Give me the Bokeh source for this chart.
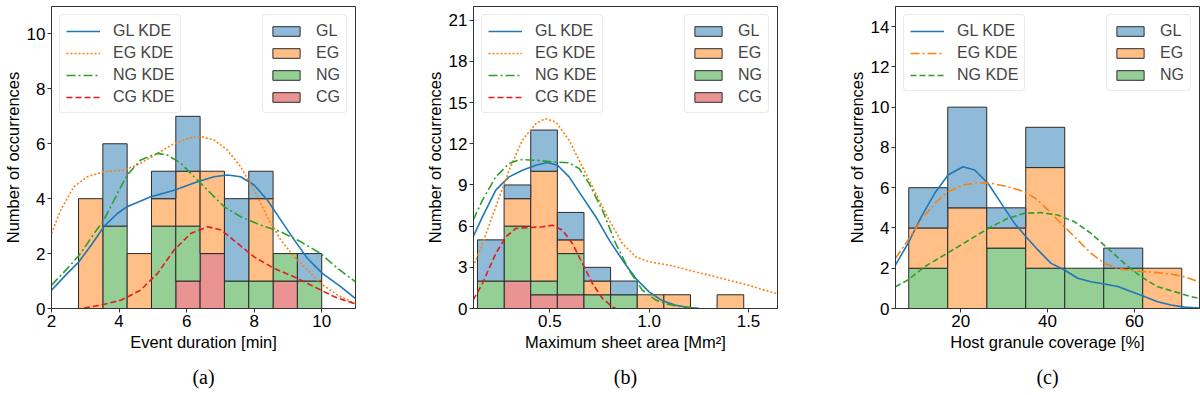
from bokeh.plotting import figure
from bokeh.models import (Legend, LegendItem, FixedTicker, Title, Range1d,
                          PrintfTickFormatter)
from bokeh.layouts import row
from bokeh.embed import file_html
from bokeh.resources import INLINE

# ---------------- data ----------------
groups = ["GL", "EG", "NG", "CG"]

# (a) Event duration [min]
a_edges = [2.80, 3.52, 4.24, 4.96, 5.68, 6.40, 7.12, 7.84, 8.56, 9.28, 10.00]
a_GL = [0, 3, 0, 1, 2, 0, 3, 1, 0, 1]
a_EG = [4, 0, 2, 1, 2, 3, 0, 3, 0, 0]
a_NG = [0, 3, 0, 3, 2, 0, 1, 1, 1, 1]
a_CG = [0, 0, 0, 0, 1, 2, 0, 0, 1, 0]
a_gl_kde_x = [2.0, 2.47, 2.81, 3.2, 3.55, 3.95, 4.24, 4.94, 5.63, 6.32, 6.81, 7.21, 7.60, 8.0, 8.39, 8.79, 9.19, 9.58, 10.02, 10.57, 11.0]
a_gl_kde_y = [0.67, 1.28, 1.70, 2.35, 2.98, 3.46, 3.71, 4.07, 4.31, 4.62, 4.80, 4.86, 4.80, 4.50, 3.95, 3.22, 2.49, 1.82, 1.28, 0.79, 0.36]
a_eg_kde_x = [2.0, 2.27, 2.66, 3.06, 3.55, 4.15, 4.64, 5.14, 5.63, 6.12, 6.42, 6.81, 7.21, 7.60, 8.0, 8.39, 8.79, 9.19, 9.58, 9.97, 10.47, 11.0]
a_eg_kde_y = [2.73, 3.58, 4.43, 4.80, 4.98, 5.04, 5.29, 5.65, 6.01, 6.23, 6.26, 6.14, 5.77, 5.16, 4.31, 3.34, 2.49, 1.88, 1.40, 0.91, 0.49, 0.18]
a_ng_kde_x = [2.0, 2.47, 2.86, 3.26, 3.55, 3.95, 4.24, 4.64, 5.14, 5.43, 5.83, 6.22, 6.62, 7.11, 7.60, 8.19, 8.79, 9.38, 9.97, 10.47, 11.0]
a_ng_kde_y = [0.85, 1.46, 2.00, 2.73, 3.22, 4.19, 4.86, 5.41, 5.65, 5.59, 5.29, 4.80, 4.31, 3.71, 3.34, 3.04, 2.79, 2.43, 2.00, 1.46, 0.97]
a_cg_kde_x = [2.96, 3.45, 4.05, 4.64, 5.14, 5.63, 6.12, 6.62, 7.02, 7.51, 8.0, 8.59, 9.19, 9.78, 10.37, 11.0]
a_cg_kde_y = [0.02, 0.12, 0.30, 0.67, 1.28, 2.13, 2.73, 2.98, 2.86, 2.37, 1.88, 1.46, 1.15, 0.79, 0.43, 0.16]

# (b) Maximum sheet area [Mm^2]
b_edges = [0.136, 0.270, 0.404, 0.538, 0.672, 0.806, 0.940, 1.074, 1.208, 1.342, 1.476]
b_GL = [3, 1, 3, 2, 1, 1, 0, 0, 0, 0]
b_EG = [0, 2, 8, 1, 1, 0, 1, 1, 0, 1]
b_NG = [2, 4, 1, 3, 1, 1, 0, 0, 0, 0]
b_CG = [0, 2, 1, 1, 0, 0, 0, 0, 0, 0]
b_gl_kde_x = [0.114, 0.161, 0.228, 0.295, 0.362, 0.43, 0.488, 0.539, 0.597, 0.664, 0.732, 0.799, 0.866, 0.933, 1.0, 1.067, 1.134, 1.20, 1.25]
b_gl_kde_y = [5.22, 6.67, 8.62, 9.59, 10.07, 10.44, 10.63, 10.44, 9.59, 8.13, 6.67, 4.98, 3.52, 2.18, 1.21, 0.56, 0.24, 0.07, 0.02]
b_eg_kde_x = [0.114, 0.161, 0.228, 0.295, 0.362, 0.43, 0.477, 0.53, 0.597, 0.664, 0.732, 0.799, 0.866, 0.933, 1.0, 1.10, 1.20, 1.30, 1.40, 1.50, 1.57, 1.646]
b_eg_kde_y = [3.03, 4.73, 7.40, 10.07, 12.26, 13.47, 13.83, 13.59, 12.26, 10.32, 8.37, 6.43, 4.73, 3.76, 3.40, 3.16, 2.79, 2.43, 2.06, 1.70, 1.38, 1.09]
b_ng_kde_x = [0.114, 0.161, 0.228, 0.295, 0.346, 0.43, 0.513, 0.597, 0.648, 0.698, 0.765, 0.832, 0.899, 0.966, 1.034, 1.10, 1.168, 1.235]
b_ng_kde_y = [6.43, 7.89, 9.59, 10.56, 10.85, 10.80, 10.68, 10.61, 10.19, 9.10, 7.16, 4.73, 2.79, 1.33, 0.61, 0.29, 0.12, 0.02]
b_cg_kde_x = [0.114, 0.161, 0.228, 0.279, 0.329, 0.396, 0.463, 0.513, 0.564, 0.614, 0.664, 0.715, 0.765, 0.815, 0.832]
b_cg_kde_y = [0.61, 1.82, 4.00, 5.22, 5.83, 5.90, 5.95, 6.07, 5.70, 4.73, 3.28, 1.82, 0.73, 0.12, 0.0]

# (c) Host granule coverage [%]
c_edges = [8.05, 17.03, 26.01, 34.99, 43.97, 52.95, 61.93, 70.91]
c_GL = [2, 5, 1, 2, 0, 1, 0]
c_EG = [2, 5, 1, 5, 0, 0, 2]
c_NG = [2, 0, 3, 2, 2, 2, 0]
c_gl_kde_x = [4.98, 7.89, 10.96, 14.02, 17.09, 20.54, 23.22, 26.28, 29.35, 32.41, 35.1, 37.78, 40.84, 43.91, 46.97, 50.04, 53.1, 56.17, 59.23, 62.3, 65.36, 68.43, 71.5, 74.9]
c_gl_kde_y = [2.16, 3.24, 4.56, 5.72, 6.63, 7.04, 6.88, 6.22, 5.22, 4.23, 3.55, 2.91, 2.24, 1.91, 1.50, 1.33, 1.22, 1.09, 0.84, 0.59, 0.34, 0.17, 0.07, 0.02]
c_eg_kde_x = [4.98, 7.89, 10.96, 14.02, 17.09, 20.54, 23.98, 27.05, 30.88, 34.71, 37.78, 40.84, 43.91, 46.97, 50.04, 53.1, 56.17, 59.23, 62.3, 65.36, 68.43, 71.5, 74.9]
c_eg_kde_y = [2.49, 3.40, 4.40, 5.22, 5.80, 6.13, 6.25, 6.22, 6.05, 5.80, 5.39, 4.73, 4.06, 3.40, 2.74, 2.24, 1.99, 1.88, 1.83, 1.78, 1.71, 1.58, 1.33]
c_ng_kde_x = [4.98, 7.89, 11.72, 15.56, 19.39, 23.22, 27.05, 30.88, 34.71, 38.54, 42.38, 46.2, 50.04, 53.87, 57.7, 61.53, 65.36, 69.2, 73.03, 74.9]
c_ng_kde_y = [1.08, 1.42, 2.08, 2.57, 3.07, 3.57, 4.06, 4.48, 4.73, 4.76, 4.64, 4.31, 3.73, 2.99, 2.24, 1.58, 1.08, 0.84, 0.59, 0.50]

a_xticks = [2, 4, 6, 8, 10]
a_yticks = [0, 2, 4, 6, 8, 10]
b_xticks = [0.5, 1.0, 1.5]
b_yticks = [0, 3, 6, 9, 12, 15, 18, 21]
c_xticks = [20, 40, 60]
c_yticks = [0, 2, 4, 6, 8, 10, 12, 14]

# ---------------- style ----------------
FILL = {"GL": "#8fbbd9", "EG": "#ffbf86", "NG": "#95cf95", "CG": "#ea9393"}
LINE = {"GL": "#1f77b4", "EG": "#ff7f0e", "NG": "#2ca02c", "CG": "#e41a1c"}
SANS = "Liberation Sans"
SERIF = "Liberation Serif"
FW, FH = 304, 302


def make_panel(edges, counts, kdes, xr, yr, xticks, yticks, xlabel, caption,
               right_border, fmt=None):
    p = figure(frame_width=FW, frame_height=FH,
               x_range=Range1d(*xr), y_range=Range1d(*yr),
               output_backend="svg", toolbar_location=None,
               min_border_left=49, min_border_right=right_border,
               min_border_top=6, min_border_bottom=86)
    p.background_fill_color = "white"
    p.border_fill_color = "white"
    p.outline_line_color = "#333333"
    p.outline_line_width = 1
    p.xgrid.visible = False
    p.ygrid.visible = False

    for ax, ticks in ((p.xaxis[0], xticks), (p.yaxis[0], yticks)):
        ax.ticker = FixedTicker(ticks=ticks)
        ax.major_tick_out = 4
        ax.major_tick_in = 0
        ax.minor_tick_out = 0
        ax.minor_tick_in = 0
        ax.axis_line_color = "#333333"
        ax.major_tick_line_color = "#333333"
        ax.major_label_text_font = SANS
        ax.major_label_text_font_size = "17px"
        ax.major_label_text_color = "black"
        ax.major_label_standoff = 2
        ax.axis_label_text_font = SANS
        ax.axis_label_text_font_size = "16.5px"
        ax.axis_label_text_font_style = "normal"
        ax.axis_label_text_color = "black"
        ax.axis_label_standoff = 3
    p.yaxis[0].axis_label_standoff = 2
    if fmt:
        p.xaxis[0].formatter = PrintfTickFormatter(format=fmt)
    p.xaxis[0].axis_label = xlabel
    p.yaxis[0].axis_label = "Number of occurrences"

    # stacked histogram: CG bottom, then NG, EG, GL on top
    nb = len(edges) - 1
    base = [0] * nb
    bar_r = {}
    for g in ["CG", "NG", "EG", "GL"]:
        if g not in counts:
            continue
        c = counts[g]
        L, R, B, T = [], [], [], []
        for i in range(nb):
            if c[i] > 0:
                L.append(edges[i]); R.append(edges[i + 1])
                B.append(base[i]); T.append(base[i] + c[i])
            base[i] += c[i]
        bar_r[g] = p.quad(left=L, right=R, bottom=B, top=T,
                          fill_color=FILL[g], line_color="#2b2b2b",
                          line_width=1)

    line_items = []
    for g, xs, ys, dash in kdes:
        r = p.line(xs, ys, line_color=LINE[g], line_width=1.6, line_dash=dash)
        line_items.append(LegendItem(label=g + " KDE", renderers=[r]))
    bar_items = [LegendItem(label=g, renderers=[bar_r[g]])
                 for g in groups if g in bar_r]

    for items, loc in ((line_items, "top_left"), (bar_items, "top_right")):
        leg = Legend(items=items, location=loc, margin=8, padding=6,
                     spacing=3, glyph_width=34, glyph_height=12,
                     label_standoff=13, label_height=19,
                     label_text_font=SANS, label_text_font_size="16px",
                     border_line_color="#d6d6d6", border_line_width=1,
                     background_fill_alpha=0.85)
        try:
            leg.border_radius = 4
        except Exception:
            pass
        p.add_layout(leg)

    # panel caption below the x-axis label
    p.add_layout(Title(text=caption, align="center", text_font=SERIF,
                       text_font_size="20px", text_font_style="normal",
                       text_color="black", standoff=21), "below")
    return p


pa = make_panel(a_edges, {"GL": a_GL, "EG": a_EG, "NG": a_NG, "CG": a_CG},
                [("GL", a_gl_kde_x, a_gl_kde_y, "solid"),
                 ("EG", a_eg_kde_x, a_eg_kde_y, "2 2"),
                 ("NG", a_ng_kde_x, a_ng_kde_y, "9 3 2 3"),
                 ("CG", a_cg_kde_x, a_cg_kde_y, "6 3")],
                (2, 11), (0, 11), a_xticks, a_yticks,
                "Event duration [min]", "(a)", 67)
pb = make_panel(b_edges, {"GL": b_GL, "EG": b_EG, "NG": b_NG, "CG": b_CG},
                [("GL", b_gl_kde_x, b_gl_kde_y, "solid"),
                 ("EG", b_eg_kde_x, b_eg_kde_y, "2 2"),
                 ("NG", b_ng_kde_x, b_ng_kde_y, "9 3 2 3"),
                 ("CG", b_cg_kde_x, b_cg_kde_y, "6 3")],
                (0.116, 1.646), (0, 22), b_xticks, b_yticks,
                "Maximum sheet area [Mm²]", "(b)", 67, fmt="%.1f")
pc = make_panel(c_edges, {"GL": c_GL, "EG": c_EG, "NG": c_NG},
                [("GL", c_gl_kde_x, c_gl_kde_y, "solid"),
                 ("EG", c_eg_kde_x, c_eg_kde_y, "9 3 2 3"),
                 ("NG", c_ng_kde_x, c_ng_kde_y, "6 3")],
                (5, 75), (0, 15), c_xticks, c_yticks,
                "Host granule coverage [%]", "(c)", 6)

layout = row(pa, pb, pc)
open("out.html", "w").write(file_html(layout, INLINE))
